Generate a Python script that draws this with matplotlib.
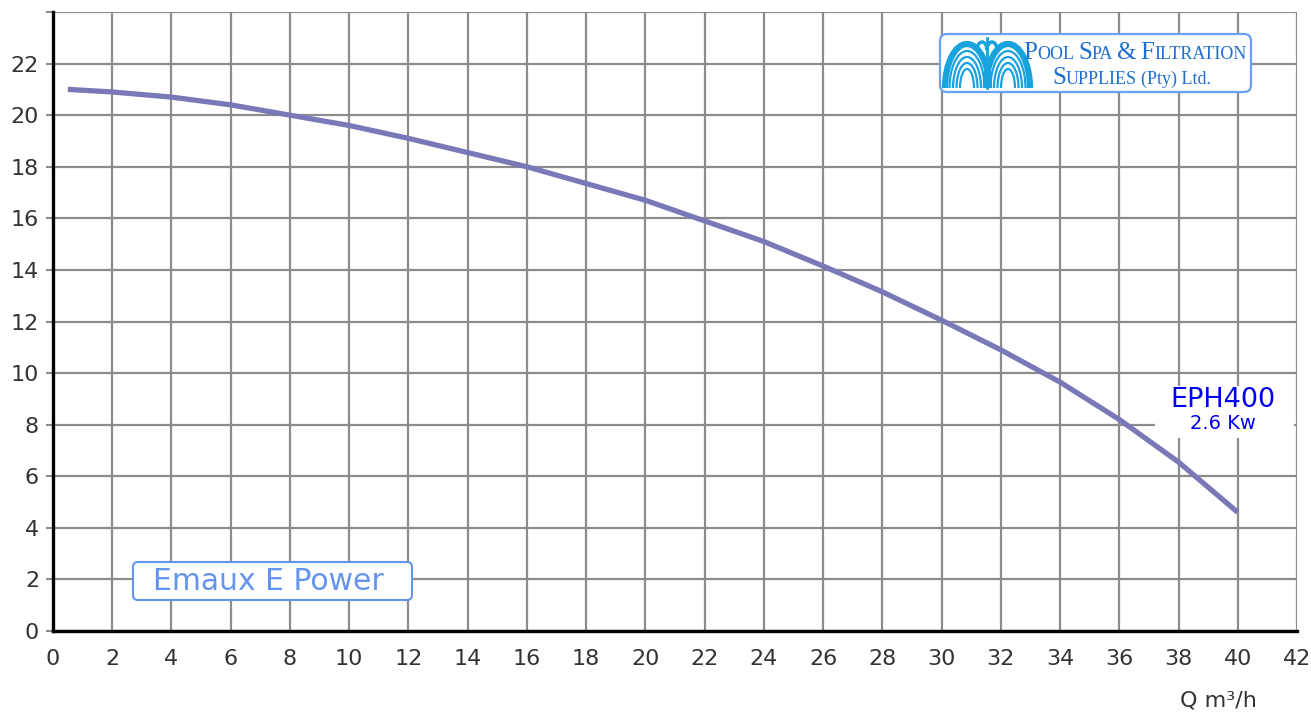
import numpy as np
import matplotlib.pyplot as plt
from matplotlib.patches import FancyBboxPatch, Arc, Rectangle

plt.rcParams['font.family'] = ['DejaVu Sans']

flow = [0.5, 2, 4, 6, 8, 10, 12, 14, 16, 18, 20, 22, 24, 26, 28, 30, 32, 34, 36, 38, 40]
head = [21.0, 20.9, 20.7, 20.4, 20.0, 19.6, 19.1, 18.55, 18.0, 17.35, 16.7, 15.9, 15.1,
        14.15, 13.15, 12.05, 10.9, 9.65, 8.2, 6.55, 4.6]
x_ticks = list(range(0, 43, 2))
y_ticks = list(range(0, 25, 2))
y_labels = [str(v) for v in y_ticks[:-1]] + [""]

W, H = 1311, 715
fig = plt.figure(figsize=(W / 100, H / 100), dpi=100)
ax = fig.add_axes([53 / W, (H - 631) / H, (1297 - 53) / W, (631 - 12) / H])

ax.plot(flow, head, color="#7b78b8", lw=3.8, solid_capstyle="butt", zorder=3)

ax.set_xlim(0, 42)
ax.set_ylim(0, 24)
ax.set_xticks(x_ticks)
ax.set_yticks(y_ticks)
ax.set_yticklabels(y_labels)
ax.grid(True, color="#8c8c8c", lw=1.6, zorder=0)
ax.set_axisbelow(True)
for s in ["top", "right"]:
    ax.spines[s].set_visible(False)
for s in ["left", "bottom"]:
    ax.spines[s].set_linewidth(2.4)
    ax.spines[s].set_color("black")
    ax.spines[s].set_zorder(4)
ax.tick_params(axis="x", length=0, pad=13, labelsize=16, labelcolor="#333333")
ax.tick_params(axis="y", length=5, width=1.5, color="#8c8c8c", pad=5,
               labelsize=16, labelcolor="#333333")

ax.text((1218 - 53) / (1297 - 53), -0.112, "Q m³/h", transform=ax.transAxes,
        ha="center", va="center", fontsize=16, color="#333333")

# pump label on a white patch
ax.add_patch(Rectangle((37.2, 7.5), 4.7, 2.0, facecolor="white", edgecolor="none", zorder=2))
ax.text(39.5, 8.97, "EPH400", ha="center", va="center", fontsize=19.5, color="#0000ee", zorder=5)
ax.text(39.5, 8.05, "2.6 Kw", ha="center", va="center", fontsize=14, color="#0000ee", zorder=5)

# brand box, pixel coordinates
bx = fig.add_axes([131 / W, (H - 602) / H, 283 / W, 42 / H])
bx.set_xlim(0, 283)
bx.set_ylim(0, 42)
bx.axis("off")
bx.add_patch(FancyBboxPatch((2, 2), 279, 38, boxstyle="round,pad=0,rounding_size=5",
                            facecolor="white", edgecolor="#6495ed", lw=1.5))
bx.text(137, 21, "Emaux E Power", ha="center", va="center", fontsize=21.5, color="#6495ed")

# logo, drawn in pixel coordinates
lg = fig.add_axes([938 / W, (H - 94) / H, 316 / W, 63 / H])
lg.set_xlim(0, 316)
lg.set_ylim(0, 63)
lg.axis("off")
lg.add_patch(FancyBboxPatch((2, 2), 311, 58, boxstyle="round,pad=0,rounding_size=7",
                            facecolor="white", edgecolor="#6aa0f0", lw=1.6))
icon = "#18a2de"
for cx in (29, 70):
    lg.add_patch(Arc((cx, 6), 44, 88, theta1=0, theta2=180, color=icon, lw=4.5))
    for w, h in [(35, 74), (28, 62), (21, 50), (14, 38)]:
        lg.add_patch(Arc((cx, 6), w, h, theta1=0, theta2=180, color=icon, lw=1.6))
for dx in (-5, 5):
    lg.add_patch(Arc((49 + dx, 44), 10, 16, theta1=0, theta2=180, color=icon, lw=2.5))
lg.plot([49, 49], [6, 56], color=icon, lw=2)

txt_col = "#1f6fd0"
serif = "Liberation Serif"


def small_caps(x, y, words, big, small):
    for w in words:
        t1 = lg.text(x, y, w[0], fontsize=big, family=serif, color=txt_col, va="baseline")
        fig.canvas.draw()
        bb = t1.get_window_extent().transformed(lg.transData.inverted())
        x = bb.x1
        if len(w) > 1:
            t2 = lg.text(x, y, w[1:], fontsize=small, family=serif, color=txt_col,
                         va="baseline")
            fig.canvas.draw()
            bb = t2.get_window_extent().transformed(lg.transData.inverted())
            x = bb.x1
        x += 4


small_caps(85, 35, ["POOL", "SPA", "&", "FILTRATION"], 18, 13)
lx = 114
for seg, fs in [("S", 18), ("UPPLIES", 13)]:
    t = lg.text(lx, 10, seg, fontsize=fs, family=serif, color=txt_col, va="baseline")
    fig.canvas.draw()
    lx = t.get_window_extent().transformed(lg.transData.inverted()).x1
lg.text(lx + 4, 10, "(Pty) Ltd.", fontsize=13, family=serif, color=txt_col, va="baseline")

fig.savefig("out.png", dpi=100)
